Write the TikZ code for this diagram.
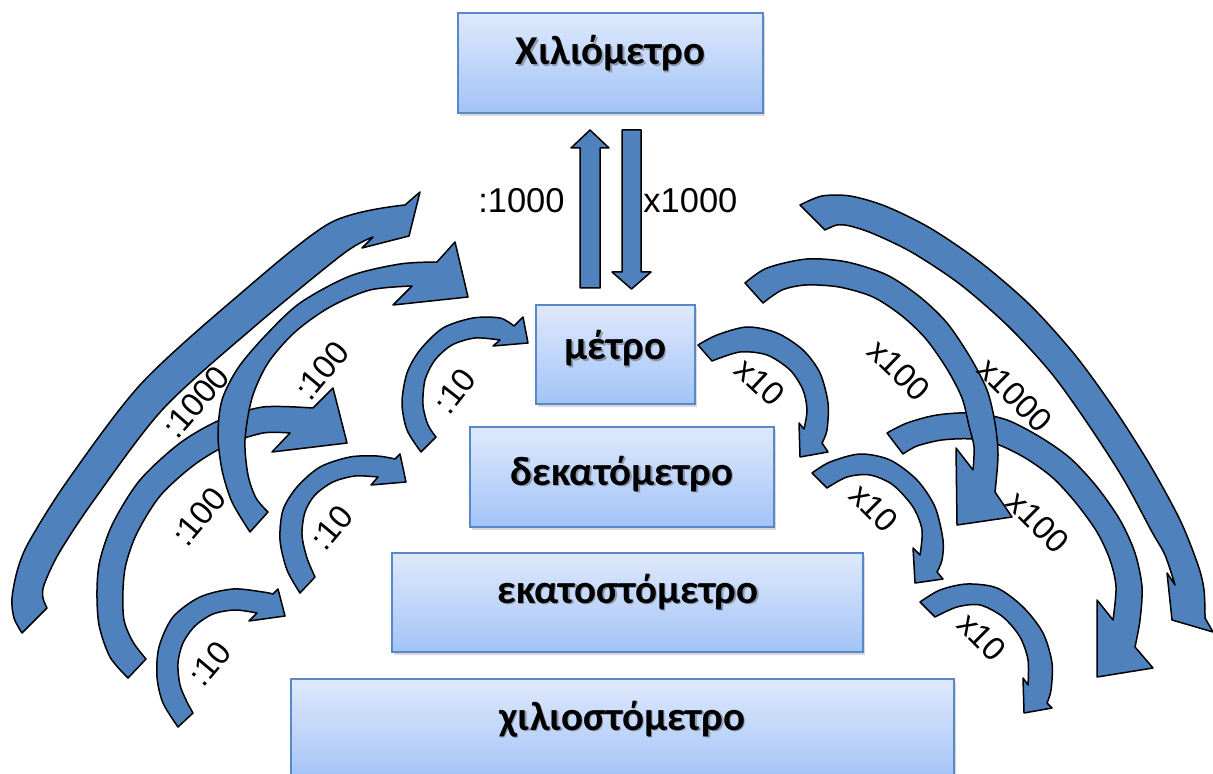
\documentclass[tikz,border=0pt]{standalone}
\usepackage{fontspec}
\setmainfont{Carlito}
\newfontfamily\labelfont{Liberation Sans}
\usetikzlibrary{fit,shadows}

\definecolor{arrowblue}{RGB}{79,129,189}
\definecolor{boxtop}{RGB}{223,233,252}
\definecolor{boxbottom}{RGB}{162,195,247}
\definecolor{boxedge}{RGB}{88,136,200}

\tikzset{
  unitbox/.style={draw=boxedge, line width=0.8pt, top color=boxtop, bottom color=boxbottom,
    inner sep=0pt, drop shadow={shadow xshift=0.8pt, shadow yshift=-1.6pt, opacity=0.3}},
  unittext/.style={font=\fontsize{20.5}{24}\selectfont\bfseries, anchor=base, inner sep=0pt},
  bandarrow/.style={fill=arrowblue, draw=black, line width=0.75pt, line join=round},
  steplabel/.style={font=\labelfont\fontsize{16.5}{19}\selectfont, inner sep=0pt},
  toplabel/.style={font=\labelfont\fontsize{17.25}{20}\selectfont, inner sep=0pt},
}

% unit name with a soft text shadow
\newcommand\unitname[3]{%
  \node[unittext, text=black!70, opacity=0.45, xshift=0.7pt, yshift=-0.9pt] at (#2) {#3};
  \node[unittext] (#1) at (#2) {#3};}

\begin{document}
\begin{tikzpicture}[x=0.5pt, y=-0.5pt]
\useasboundingbox (0,0) rectangle (1213,774);

% ---- unit boxes ----
\node[unitbox, fit={(458,13) (763,113)}] (km) {};
\node[unitbox, fit={(536,305) (695,404)}] (m) {};
\node[unitbox, fit={(470,427) (774,527)}] (dm) {};
\node[unitbox, fit={(392,553) (863,652)}] (cm) {};
\node[unitbox, fit={(291,679) (954,780)}] (mm) {};

\unitname{kmtext}{610.5,65}{Χιλιόμετρο}
\unitname{mtext}{615.5,360}{μέτρο}
\unitname{dmtext}{622,485}{δεκατόμετρο}
\unitname{cmtext}{628,603}{εκατοστόμετρο}
\unitname{mmtext}{622.5,730}{χιλιοστόμετρο}

% ---- straight arrows between metre and kilometre ----
\path[bandarrow] (580,288) -- (580,148) -- (571,148) -- (590,130) -- (609,148) -- (600,148) -- (600,288) -- cycle;
\path[bandarrow] (622,130) -- (641,130) -- (641,272) -- (651,272) -- (631.5,289) -- (612,272) -- (622,272) -- cycle;
\node[toplabel, anchor=base east] (divkm) at (565,213) {:1000};
\node[toplabel, anchor=base west] (mulkm) at (643,213) {x1000};

% ---- left side: division arrows ----
% :1000
\path[bandarrow] plot[smooth] coordinates {(22,633) (14,618) (12,598) (18,568) (30,540) (68,480) (140,385) (233,300) (330,223) (405,205)}
  -- (420,192) -- (409,236) -- (362,248)
  -- plot[smooth] coordinates {(373,237) (343,254) (254,327) (163,409) (94,500) (59,553) (44,585) (43,598) (47,608)} -- cycle;
% :100 (lower)
\path[bandarrow] plot[smooth] coordinates {(128,678) (110,657) (99,625) (97,590) (100,560) (113,523) (140,480) (180,443) (220,420) (263,407) (313,408)}
  -- (333,388) -- (347,443) -- (272,452)
  -- plot[smooth] coordinates {(290,433) (263,433) (229,444) (194,465) (160,496) (137,533) (126,564) (123,590) (124,620) (133,642) (146,659)} -- cycle;
% :100 (upper)
\path[bandarrow] plot[smooth] coordinates {(250,532) (232,502) (222,470) (218,435) (222,400) (238,368) (265,336) (300,303) (350,276) (400,264) (437,262)}
  -- (455,242) -- (468,297) -- (393,305)
  -- plot[smooth] coordinates {(412,286) (370,290) (330,307) (295,332) (268,363) (252,398) (245,440) (248,475) (256,498) (268,512)} -- cycle;
% :10 (decimetre to metre)
\path[bandarrow] plot[smooth] coordinates {(421,452) (407,430) (402,403) (407,373) (420,350) (443,328) (473,318) (500,318) (514,326)}
  -- (523,317) -- (528,343) -- (493,346)
  -- plot[smooth] coordinates {(500,340) (475,338) (452,345) (435,360) (425,380) (423,405) (428,425) (436,437)} -- cycle;
% :10 (centimetre to decimetre)
\path[bandarrow] plot[smooth] coordinates {(300,593) (287,570) (280,540) (283,510) (297,487) (320,467) (350,457) (377,456) (395,459)}
  -- (400,454) -- (406,482) -- (371,485)
  -- plot[smooth] coordinates {(378,477) (355,476) (333,482) (315,495) (305,512) (302,535) (307,558) (315,577)} -- cycle;
% :10 (millimetre to centimetre)
\path[bandarrow] plot[smooth] coordinates {(178,727) (163,703) (157,677) (159,647) (173,617) (200,597) (233,589) (263,592) (273,594)}
  -- (278,589) -- (285,616) -- (249,621)
  -- plot[smooth] coordinates {(257,613) (235,610) (213,614) (195,626) (183,643) (178,663) (180,685) (187,702) (193,713)} -- cycle;

% ---- right side: multiplication arrows ----
% x10 (metre to decimetre)
\path[bandarrow] plot[smooth] coordinates {(698,345) (717,335) (747,327) (777,333) (803,350) (820,373) (828,403) (827,430) (822,443)}
  -- (828,452) -- (800,457) -- (799,423)
  -- plot[smooth] coordinates {(804,429) (807,410) (803,390) (790,370) (767,355) (740,352) (712,361)} -- cycle;
% x100 (lower)
\path[bandarrow] plot[smooth] coordinates {(887,433) (907,423) (937,415) (973,413) (1007,420) (1040,437) (1070,458) (1097,487) (1120,520) (1135,553) (1142,587) (1140,620) (1135,647)}
  -- (1153,668) -- (1097,677) -- (1097,600)
  -- plot[smooth] coordinates {(1113,620) (1116,587) (1110,560) (1097,532) (1076,503) (1053,478) (1027,459) (999,445) (972,439) (942,440) (917,446) (903,454)} -- cycle;
% x100 (upper)
\path[bandarrow] plot[smooth] coordinates {(745,283) (767,268) (807,259) (847,262) (887,275) (920,297) (947,323) (970,357) (987,390) (995,423) (998,455) (995,492)}
  -- (1012,517) -- (957,525) -- (956,448)
  -- plot[smooth] coordinates {(973,470) (974,447) (969,426) (962,398) (947,369) (926,339) (902,316) (873,297) (839,287) (806,285) (782,290) (763,303)} -- cycle;
% x1000
\path[bandarrow] plot[smooth] coordinates {(800,205) (822,196) (850,196) (885,206) (930,228) (980,262) (1030,305) (1075,355) (1115,410) (1150,465) (1180,520) (1198,565) (1204,590) (1205,618)}
  -- (1213,632) -- (1172,620) -- (1167,573)
  -- plot[smooth] coordinates {(1175,585) (1165,555) (1152,532) (1124,480) (1090,427) (1052,374) (1009,327) (961,285) (913,253) (874,234) (850,226) (837,225) (825,230)} -- cycle;
% x10 (decimetre to centimetre)
\path[bandarrow] plot[smooth] coordinates {(812,473) (830,462) (860,454) (890,460) (917,480) (935,507) (943,540) (942,560) (937,572)}
  -- (943,579) -- (915,583) -- (913,548)
  -- plot[smooth] coordinates {(920,555) (922,530) (913,507) (893,485) (870,475) (847,477) (827,488)} -- cycle;
% x10 (centimetre to millimetre)
\path[bandarrow] plot[smooth] coordinates {(920,602) (940,590) (967,584) (997,588) (1023,607) (1043,633) (1052,663) (1051,690) (1047,703)}
  -- (1052,708) -- (1024,713) -- (1023,678)
  -- plot[smooth] coordinates {(1028,685) (1028,660) (1020,637) (1003,617) (980,605) (957,607) (935,617)} -- cycle;

% ---- arrow labels ----
\node[steplabel, rotate=49] (lkm) at (196,402) {:1000};
\node[steplabel, rotate=50] (lhu) at (322,371) {:100};
\node[steplabel, rotate=52] (ldm) at (455,391) {:10};
\node[steplabel, rotate=50] (lhl) at (199,517) {:100};
\node[steplabel, rotate=50] (lcm) at (332,528) {:10};
\node[steplabel, rotate=50] (lmm) at (210,664) {:10};
\node[steplabel, rotate=-43] (rdm) at (760,382) {x10};
\node[steplabel, rotate=-44] (rhu) at (899,370) {x100};
\node[steplabel, rotate=-45] (rkm) at (1015,395) {x1000};
\node[steplabel, rotate=-45] (rcm) at (874,508) {x10};
\node[steplabel, rotate=-45] (rhl) at (1038,522) {x100};
\node[steplabel, rotate=-45] (rmm) at (982,637) {x10};
\end{tikzpicture}
\end{document}
